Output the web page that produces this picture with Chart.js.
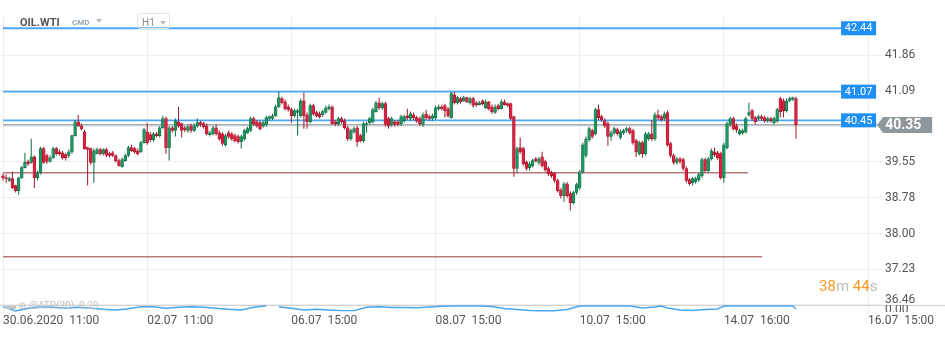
<!DOCTYPE html>
<html>
<head>
<meta charset="utf-8">
<script src="https://cdn.jsdelivr.net/npm/chart.js@4/dist/chart.umd.min.js"></script>
<style>
html,body{margin:0;padding:0;background:#fff;}
#wrap{position:relative;width:945px;height:338px;overflow:hidden;font-family:Roboto,"Noto Sans",sans-serif;}
#c{position:absolute;left:0;top:0;}
.ov{position:absolute;white-space:pre;line-height:normal;}
.sym{left:20px;top:16px;font-weight:bold;font-size:11px;color:#555;}
.cmd{left:72px;top:18px;font-weight:bold;font-size:8px;color:#9aa4ab;}
.tri{position:absolute;width:0;height:0;border-left:3.5px solid transparent;border-right:3.5px solid transparent;border-top:4px solid #b5bbbf;}
.tf{left:137px;top:13px;width:33px;height:16px;border:1px solid #e2e2e2;border-radius:3px;box-sizing:border-box;}
.tft{left:142px;top:17px;font-size:10px;color:#888;}
.cd{left:819px;top:277px;font-size:15px;}
.cd .n{color:#f59a23;}
.cd .u{color:#bcbcbc;}
.leg{left:6px;top:300px;height:9px;overflow:hidden;font-size:10px;color:#c4c4c4;}
</style>
</head>
<body>
<div id="wrap">
<canvas id="c" width="945" height="338"></canvas>
<div class="ov sym">OIL.WTI</div>
<div class="ov cmd">CMD</div>
<div class="tri" style="left:96px;top:19px;"></div>
<div class="ov tf"></div>
<div class="ov tft">H1</div>
<div class="tri" style="left:160px;top:21px;"></div>
<div class="ov cd"><span class="n">38</span><span class="u">m </span><span class="n">44</span><span class="u">s</span></div>
<div class="ov leg">▬ ⊕ @ATR(20)  0.29</div>
</div>
<script>
// ---- data ----
const openP = [
39.25,39.21,39.15,39.19,39.04,38.93,39.21,39.43,39.56,39.54,
39.66,39.21,39.32,39.84,39.69,39.56,39.64,39.84,39.77,39.75,
39.71,39.69,39.77,40.12,40.42,40.33,40.20,39.86,39.84,39.54,
39.73,39.82,39.73,39.82,39.73,39.75,39.69,39.58,39.45,39.58,
39.69,39.86,39.84,39.79,39.77,39.97,40.20,40.14,40.03,40.16,
40.12,40.29,40.49,39.86,40.29,40.23,40.42,40.38,40.29,40.23,
40.33,40.23,40.33,40.40,40.38,40.33,40.14,40.16,40.29,40.18,
40.16,39.92,40.18,40.16,40.12,40.10,39.99,40.05,40.18,40.23,
40.49,40.42,40.40,40.33,40.36,40.49,40.49,40.55,40.74,40.92,
40.85,40.74,40.68,40.55,40.62,40.55,40.87,40.57,40.42,40.77,
40.62,40.59,40.57,40.62,40.70,40.74,40.42,40.38,40.49,40.44,
40.29,40.05,40.20,40.29,40.12,40.01,40.36,40.40,40.42,40.64,
40.83,40.72,40.81,40.49,40.36,40.42,40.42,40.38,40.44,40.55,
40.49,40.57,40.51,40.49,40.36,40.59,40.53,40.49,40.51,40.70,
40.74,40.77,40.70,40.51,41.00,40.83,40.92,40.87,40.94,40.83,
40.92,40.83,40.79,40.87,40.72,40.85,40.74,40.62,40.77,40.70,
40.85,40.81,40.81,40.53,39.41,39.86,39.84,39.54,39.43,39.47,
39.62,39.54,39.66,39.56,39.41,39.32,39.30,39.15,38.95,38.82,
39.08,38.87,38.67,38.89,38.99,39.34,39.69,40.03,40.23,40.16,
40.68,40.53,40.44,40.38,40.10,40.18,40.25,40.08,40.18,40.23,
40.27,40.23,40.01,39.73,39.97,39.73,40.05,40.16,40.05,40.57,
40.53,40.49,40.62,39.95,39.69,39.54,39.62,39.60,39.41,39.17,
39.10,39.12,39.17,39.25,39.60,39.36,39.62,39.77,39.75,39.73,
39.21,39.86,40.36,40.49,40.33,40.16,40.18,40.20,40.57,40.66,
40.51,40.49,40.53,40.51,40.44,40.49,40.40,40.44,40.92,40.87,
40.66,40.87,40.90,40.92];
const closeP = [
39.21,39.19,39.19,38.99,38.93,39.21,39.43,39.54,39.51,39.66,
39.21,39.32,39.84,39.54,39.56,39.64,39.84,39.73,39.73,39.64,
39.64,39.77,40.12,40.42,40.33,40.27,39.84,39.82,39.54,39.79,
39.82,39.73,39.82,39.69,39.69,39.69,39.58,39.47,39.60,39.69,
39.86,39.79,39.77,39.73,39.97,40.25,39.97,40.03,40.16,40.12,
40.29,40.49,39.86,40.29,40.23,40.44,40.33,40.23,40.25,40.31,
40.23,40.33,40.40,40.36,40.31,40.16,40.18,40.29,40.16,40.05,
39.95,40.12,40.10,40.05,40.01,39.99,40.10,40.23,40.27,40.49,
40.38,40.33,40.27,40.40,40.51,40.53,40.55,40.74,40.94,40.83,
40.70,40.68,40.55,40.66,40.66,40.87,40.55,40.42,40.77,40.59,
40.55,40.53,40.64,40.72,40.74,40.38,40.38,40.49,40.42,40.29,
40.05,40.23,40.27,39.99,40.01,40.38,40.38,40.49,40.68,40.83,
40.72,40.81,40.36,40.33,40.49,40.36,40.36,40.53,40.53,40.51,
40.59,40.51,40.44,40.38,40.57,40.51,40.49,40.55,40.72,40.74,
40.70,40.66,40.55,41.03,40.83,40.94,40.85,40.94,40.85,40.92,
40.77,40.79,40.83,40.81,40.85,40.70,40.64,40.74,40.70,40.85,
40.79,40.77,40.49,39.41,39.84,39.77,39.51,39.41,39.51,39.58,
39.58,39.62,39.47,39.38,39.30,39.25,39.15,38.93,38.82,39.08,
38.82,38.67,38.89,39.06,39.34,39.92,40.05,40.27,40.10,40.68,
40.51,40.46,40.33,40.10,40.18,40.27,40.16,40.20,40.23,40.27,
40.18,39.97,39.77,39.97,39.73,40.16,40.16,40.05,40.57,40.51,
40.46,40.59,39.92,39.69,39.54,39.62,39.56,39.41,39.15,39.08,
39.19,39.19,39.28,39.60,39.36,39.62,39.79,39.71,39.64,39.21,
39.92,40.38,40.49,40.27,40.25,40.23,40.23,40.49,40.62,40.49,
40.42,40.53,40.49,40.44,40.49,40.44,40.49,40.68,40.64,40.66,
40.87,40.92,40.94,40.35];
const highP = [
39.30,39.28,39.23,39.34,39.06,39.23,39.47,39.75,39.60,40.05,
39.69,39.36,39.88,39.88,39.73,39.69,39.88,39.88,39.82,39.79,
39.75,39.82,40.14,40.46,40.57,40.38,40.25,39.88,39.86,39.84,
39.86,39.86,39.84,39.86,39.77,39.79,39.71,39.62,39.64,39.73,
39.90,39.92,39.88,39.84,40.01,40.29,40.40,40.20,40.20,40.20,
40.33,40.55,40.53,40.33,40.33,40.49,40.74,40.40,40.33,40.36,
40.38,40.38,40.49,40.44,40.42,40.38,40.23,40.33,40.36,40.23,
40.20,40.16,40.23,40.20,40.16,40.14,40.14,40.27,40.31,40.53,
40.53,40.46,40.44,40.44,40.55,40.55,40.59,40.79,41.07,40.96,
40.90,40.79,40.72,40.70,40.70,40.92,41.05,40.62,40.81,40.81,
40.66,40.64,40.68,40.77,40.79,40.77,40.46,40.53,40.53,40.49,
40.33,40.27,40.31,40.33,40.16,40.42,40.42,40.53,40.72,40.87,
40.94,40.85,40.85,40.53,40.53,40.46,40.46,40.57,40.57,40.70,
40.64,40.62,40.55,40.53,40.62,40.68,40.57,40.59,40.77,40.79,
40.79,40.81,40.74,41.07,41.07,40.98,40.96,40.98,40.96,40.96,
40.96,40.87,40.87,40.90,40.90,40.87,40.79,40.79,40.81,40.90,
40.90,40.83,40.83,40.55,39.88,40.08,39.88,39.58,39.56,39.62,
39.66,39.66,39.77,39.60,39.45,39.36,39.34,39.19,38.99,39.12,
39.12,38.91,38.93,39.10,39.38,39.97,40.10,40.31,40.27,40.72,
40.79,40.57,40.49,40.42,40.23,40.31,40.29,40.25,40.27,40.31,
40.31,40.27,40.05,40.01,40.01,40.20,40.20,40.46,40.62,40.68,
40.57,40.64,40.66,39.99,39.73,39.66,39.66,39.64,39.45,39.21,
39.23,39.23,39.32,39.64,39.64,39.66,39.84,39.86,39.79,39.77,
39.97,40.42,40.53,40.53,40.38,40.27,40.27,40.53,40.83,40.70,
40.55,40.57,40.57,40.55,40.53,40.53,40.53,40.72,40.96,40.92,
40.92,40.96,40.96,40.96];
const lowP = [
39.15,39.10,39.12,38.97,38.89,38.84,39.19,39.41,39.47,39.51,
38.99,39.15,39.28,39.51,39.51,39.54,39.62,39.69,39.69,39.60,
39.58,39.64,39.73,40.10,40.31,40.23,39.82,39.04,39.49,39.10,
39.71,39.69,39.69,39.66,39.64,39.66,39.54,39.45,39.43,39.56,
39.66,39.77,39.73,39.69,39.75,39.95,39.92,39.99,39.99,40.08,
40.08,40.27,39.73,39.58,40.18,40.10,40.29,40.08,40.20,40.18,
40.18,40.20,40.29,40.31,40.27,40.12,40.10,40.12,40.12,40.01,
39.90,39.88,40.05,40.01,39.97,39.95,39.84,40.01,40.16,40.20,
40.33,40.29,40.23,40.29,40.31,40.44,40.46,40.53,40.72,40.79,
40.66,40.64,40.40,40.51,40.12,40.51,40.27,40.27,40.38,40.55,
40.51,40.49,40.53,40.59,40.66,40.36,40.33,40.33,40.38,40.25,
40.01,40.01,40.16,39.88,39.97,39.97,40.18,40.36,40.38,40.62,
40.68,40.68,40.31,40.27,40.31,40.31,40.33,40.33,40.40,40.46,
40.44,40.46,40.40,40.33,40.31,40.46,40.44,40.44,40.46,40.66,
40.66,40.51,40.51,40.49,40.79,40.79,40.81,40.85,40.83,40.79,
40.72,40.74,40.77,40.77,40.70,40.66,40.59,40.59,40.66,40.68,
40.77,40.74,40.46,39.23,39.32,39.73,39.47,39.36,39.36,39.43,
39.54,39.49,39.43,39.34,39.25,39.21,39.10,38.89,38.76,38.69,
38.78,38.50,38.63,38.84,38.95,39.30,39.64,39.99,40.05,40.12,
40.46,40.42,40.29,39.90,40.01,40.14,40.12,40.03,40.14,40.18,
40.14,39.92,39.66,39.69,39.64,39.69,40.01,40.01,40.01,40.46,
40.42,40.44,39.88,39.64,39.49,39.49,39.51,39.36,39.10,39.04,
39.04,39.08,39.12,39.21,39.32,39.32,39.58,39.66,39.60,39.17,
39.10,39.82,40.31,40.23,40.18,40.12,40.14,40.16,40.53,40.44,
40.36,40.44,40.44,40.40,40.40,40.40,40.36,40.40,40.51,40.51,
40.62,40.85,40.87,40.05];

const atrIdx = [0,4,8,12,16,20,24,28,32,36,40,44,48,52,56,60,64,68,72,76,80,84,86,88,92,96,100,104,108,112,116,120,124,128,132,136,140,144,148,152,156,160,164,168,172,176,180,184,188,192,196,200,204,208,210,212,216,220,224,228,230,236,240,244,248,252,253];
const atrVal = [0.315,0.10,0.235,0.315,0.285,0.235,0.285,0.235,0.185,0.15,0.215,0.315,0.315,0.235,0.285,0.315,0.285,0.235,0.185,0.15,0.285,0.365,null,0.315,0.235,0.15,0.185,0.15,0.12,0.12,0.285,0.315,0.275,0.275,0.265,0.30,0.34,0.35,0.35,0.35,0.325,0.225,0.175,0.125,0.11,0.11,0.175,0.35,0.35,0.35,0.35,0.35,0.25,0.30,0.35,0.25,0.15,0.125,0.175,0.20,0.35,0.35,0.35,0.35,0.35,0.35,0.20];
const atrTickVals = [0];

const xTickIdx = [0,46,92,138,184,230,276];
const xTickLabels = ['30.06.2020  11:00','02.07  11:00','06.07  15:00','08.07  15:00','10.07  15:00','14.07  16:00','16.07  15:00'];
const yTickVals = [36.46,37.23,38.00,38.78,39.55,40.32,41.09,41.86];

const blueLevels = [42.44, 41.07, 40.45];
const redLevels = [39.32, 37.50];
const redLevelEnds = [237.7, 242.2];
const lastPrice = 40.35;

// ---- layout / style settings ----
const X_MIN = -0.96, X_MAX = 280.45;
const Y_MIN = 36.287, Y_MAX = 42.683;   // main pane; 36.46 sits on the pane separator
const IND_MAX = 14.8;                   // indicator scale fills the strip under the separator
const BLUE_END = 267.4, LAST_END = 278.9;
const GREEN = '#1f9661', GREEN_D = '#0f6a42', RED = '#d9223f', RED_D = '#a3162c';
const AXIS_FONT = '12px Roboto', AXIS_COLOR = '#555';

const n = openP.length;
const idx = Array.from({length: n}, (_, i) => i);
const up = idx.map(i => closeP[i] >= openP[i]);

const datasets = [];
datasets.push({
  type: 'bar', label: 'body', order: 1, grouped: false,
  data: idx.map(i => ({x: i, y: [openP[i], closeP[i]]})),
  backgroundColor: up.map(u => u ? GREEN : RED),
  borderColor: up.map(u => u ? GREEN_D : RED_D),
  borderWidth: 0.6, borderSkipped: false, barThickness: 2.8
});
datasets.push({
  type: 'bar', label: 'wick', order: 2, grouped: false,
  data: idx.map(i => ({x: i, y: [lowP[i], highP[i]]})),
  backgroundColor: up.map(u => u ? GREEN_D : RED_D),
  borderWidth: 0, barThickness: 1, inflateAmount: 0
});
blueLevels.forEach(v => datasets.push({
  type: 'line', order: 3, data: [{x: 0, y: v}, {x: BLUE_END, y: v}],
  borderColor: '#4ea7f4', borderWidth: 1.8, pointRadius: 0
}));
datasets.push({
  type: 'line', order: 3, data: [{x: 0, y: lastPrice}, {x: LAST_END, y: lastPrice}],
  borderColor: '#8e9599', borderWidth: 1.3, pointRadius: 0
});
redLevels.forEach((v, k) => datasets.push({
  type: 'line', order: 3, data: [{x: 0, y: v}, {x: redLevelEnds[k], y: v}],
  borderColor: '#b67878', borderWidth: 1.5, pointRadius: 0
}));
datasets.push({
  type: 'line', order: 3, yAxisID: 'yInd',
  data: atrIdx.map((i, k) => ({x: i, y: atrVal[k]})),
  borderColor: '#45a6f2', borderWidth: 1.4, pointRadius: 0, spanGaps: false, tension: 0
});

const overlayPlugin = {
  id: 'overlay',
  beforeDatasetsDraw(chart) {
    const {ctx} = chart; const y = chart.scales.y;
    ctx.save();
    ctx.strokeStyle = '#d2d2d2'; ctx.lineWidth = 1;
    const py = Math.round(y.getPixelForValue(yTickVals[0])) + 0.5;
    ctx.beginPath(); ctx.moveTo(0, py); ctx.lineTo(chart.width, py); ctx.stroke();
    ctx.restore();
  },
  afterDatasetsDraw(chart) {
    const {ctx} = chart; const x = chart.scales.x, y = chart.scales.y, yi = chart.scales.yInd;
    ctx.save();
    ctx.textBaseline = 'middle';
    blueLevels.forEach(v => {
      const py = y.getPixelForValue(v), px = x.getPixelForValue(BLUE_END);
      ctx.fillStyle = '#1e8ff5';
      ctx.fillRect(px, py - 7, 35, 14);
      ctx.fillStyle = '#fff'; ctx.font = '11px Roboto'; ctx.textAlign = 'center';
      ctx.fillText(v.toFixed(2), px + 17.5, py + 0.5);
    });
    const cy = y.getPixelForValue(lastPrice), cx = x.getPixelForValue(LAST_END);
    ctx.fillStyle = '#8e979c';
    ctx.beginPath();
    ctx.moveTo(cx, cy); ctx.lineTo(cx + 6, cy - 8); ctx.lineTo(cx + 55, cy - 8);
    ctx.lineTo(cx + 55, cy + 8); ctx.lineTo(cx + 6, cy + 8); ctx.closePath(); ctx.fill();
    ctx.fillStyle = '#fff'; ctx.font = 'bold 14px Roboto'; ctx.textAlign = 'left';
    ctx.fillText(lastPrice.toFixed(2), cx + 8, cy + 0.5);
    // lowest price tick sits just above the pane separator
    ctx.fillStyle = AXIS_COLOR; ctx.font = AXIS_FONT;
    ctx.fillText(yTickVals[0].toFixed(2), y.left + 3, y.getPixelForValue(yTickVals[0]) - 5);
    // indicator axis tick label, cut by the time axis strip
    ctx.beginPath(); ctx.rect(y.left, y.getPixelForValue(yTickVals[0]), 63, yi.bottom - y.getPixelForValue(yTickVals[0]) - 1); ctx.clip();
    atrTickVals.forEach(v => ctx.fillText(v.toFixed(2), y.left + 3, yi.getPixelForValue(v) - 3));
    ctx.restore();
  }
};

const tickFont = {family: 'Roboto', size: 12};
new Chart(document.getElementById('c'), {
  data: {datasets},
  options: {
    responsive: false, devicePixelRatio: 1, animation: false, events: [],
    layout: {padding: {top: 17, left: 0, right: 0, bottom: 0}},
    plugins: {legend: {display: false}, tooltip: {enabled: false}},
    scales: {
      x: {
        type: 'linear', min: X_MIN, max: X_MAX, offset: false,
        afterBuildTicks: s => { s.ticks = xTickIdx.map(v => ({value: v})); },
        afterFit: s => { s.height = 25; },
        ticks: {autoSkip: false, maxRotation: 0, minRotation: 0, align: 'start', padding: 1,
          color: AXIS_COLOR, font: tickFont,
          callback: v => { const k = xTickIdx.indexOf(v); return k >= 0 ? xTickLabels[k] : ''; }},
        grid: {color: '#eeeeee', drawTicks: false, offset: false},
        border: {display: false}
      },
      y: {
        type: 'linear', position: 'right',
        min: Y_MIN, max: Y_MAX,
        afterBuildTicks: s => { s.ticks = yTickVals.map(v => ({value: v})); },
        afterFit: s => { s.width = 63; },
        ticks: {padding: 3, color: AXIS_COLOR, font: tickFont,
          callback: v => (v === yTickVals[0] ? '' : v.toFixed(2))},
        grid: {color: '#eeeeee', drawTicks: false},
        border: {display: false}
      },
      yInd: {
        type: 'linear', position: 'right', display: false,
        min: 0, max: IND_MAX
      }
    }
  },
  plugins: [overlayPlugin]
});
</script>
</body>
</html>
